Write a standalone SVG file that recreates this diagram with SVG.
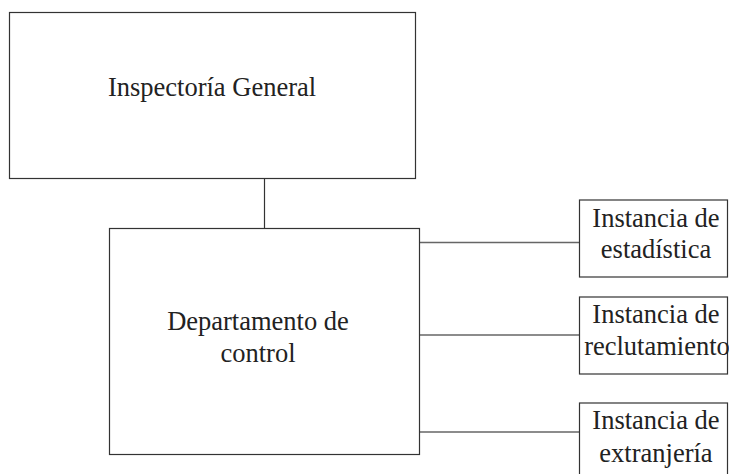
<svg xmlns="http://www.w3.org/2000/svg" width="729" height="474" viewBox="0 0 729 474">
<style>
.box{fill:#fff;stroke:#333;stroke-width:1.2}
.conn{stroke:#666;stroke-width:1.6;fill:none}
.v{stroke:#333;stroke-width:1.2}
text{font-family:"Liberation Serif","Times New Roman",serif;font-size:26.5px;fill:#222;text-anchor:middle}
</style>
<rect width="729" height="474" fill="#fff"/>
<g id="connectors">
<line class="v" x1="264.5" y1="179" x2="264.5" y2="229"/>
<line class="conn" x1="420" y1="242.5" x2="579" y2="242.5"/>
<line class="conn" x1="420" y1="335" x2="579" y2="335"/>
<line class="conn" x1="420" y1="432" x2="579" y2="432"/>
</g>
<g id="inspectoria">
<rect class="box" x="9.5" y="12.5" width="406" height="166"/>
<text x="212" y="96">Inspectoría General</text>
</g>
<g id="departamento">
<rect class="box" x="109.5" y="228.5" width="310" height="226"/>
<text x="258" y="330">Departamento de</text>
<text x="258" y="362">control</text>
</g>
<g id="estadistica">
<rect class="box" x="579.5" y="200" width="148" height="77"/>
<text x="656" y="227">Instancia de</text>
<text x="656" y="258">estadística</text>
</g>
<g id="reclutamiento">
<rect class="box" x="579.5" y="297" width="148" height="77"/>
<text x="656" y="323">Instancia de</text>
<text x="657" y="355">reclutamiento</text>
</g>
<g id="extranjeria">
<rect class="box" x="579.5" y="403" width="148" height="80"/>
<text x="656" y="429">Instancia de</text>
<text x="656" y="462">extranjería</text>
</g>
</svg>
